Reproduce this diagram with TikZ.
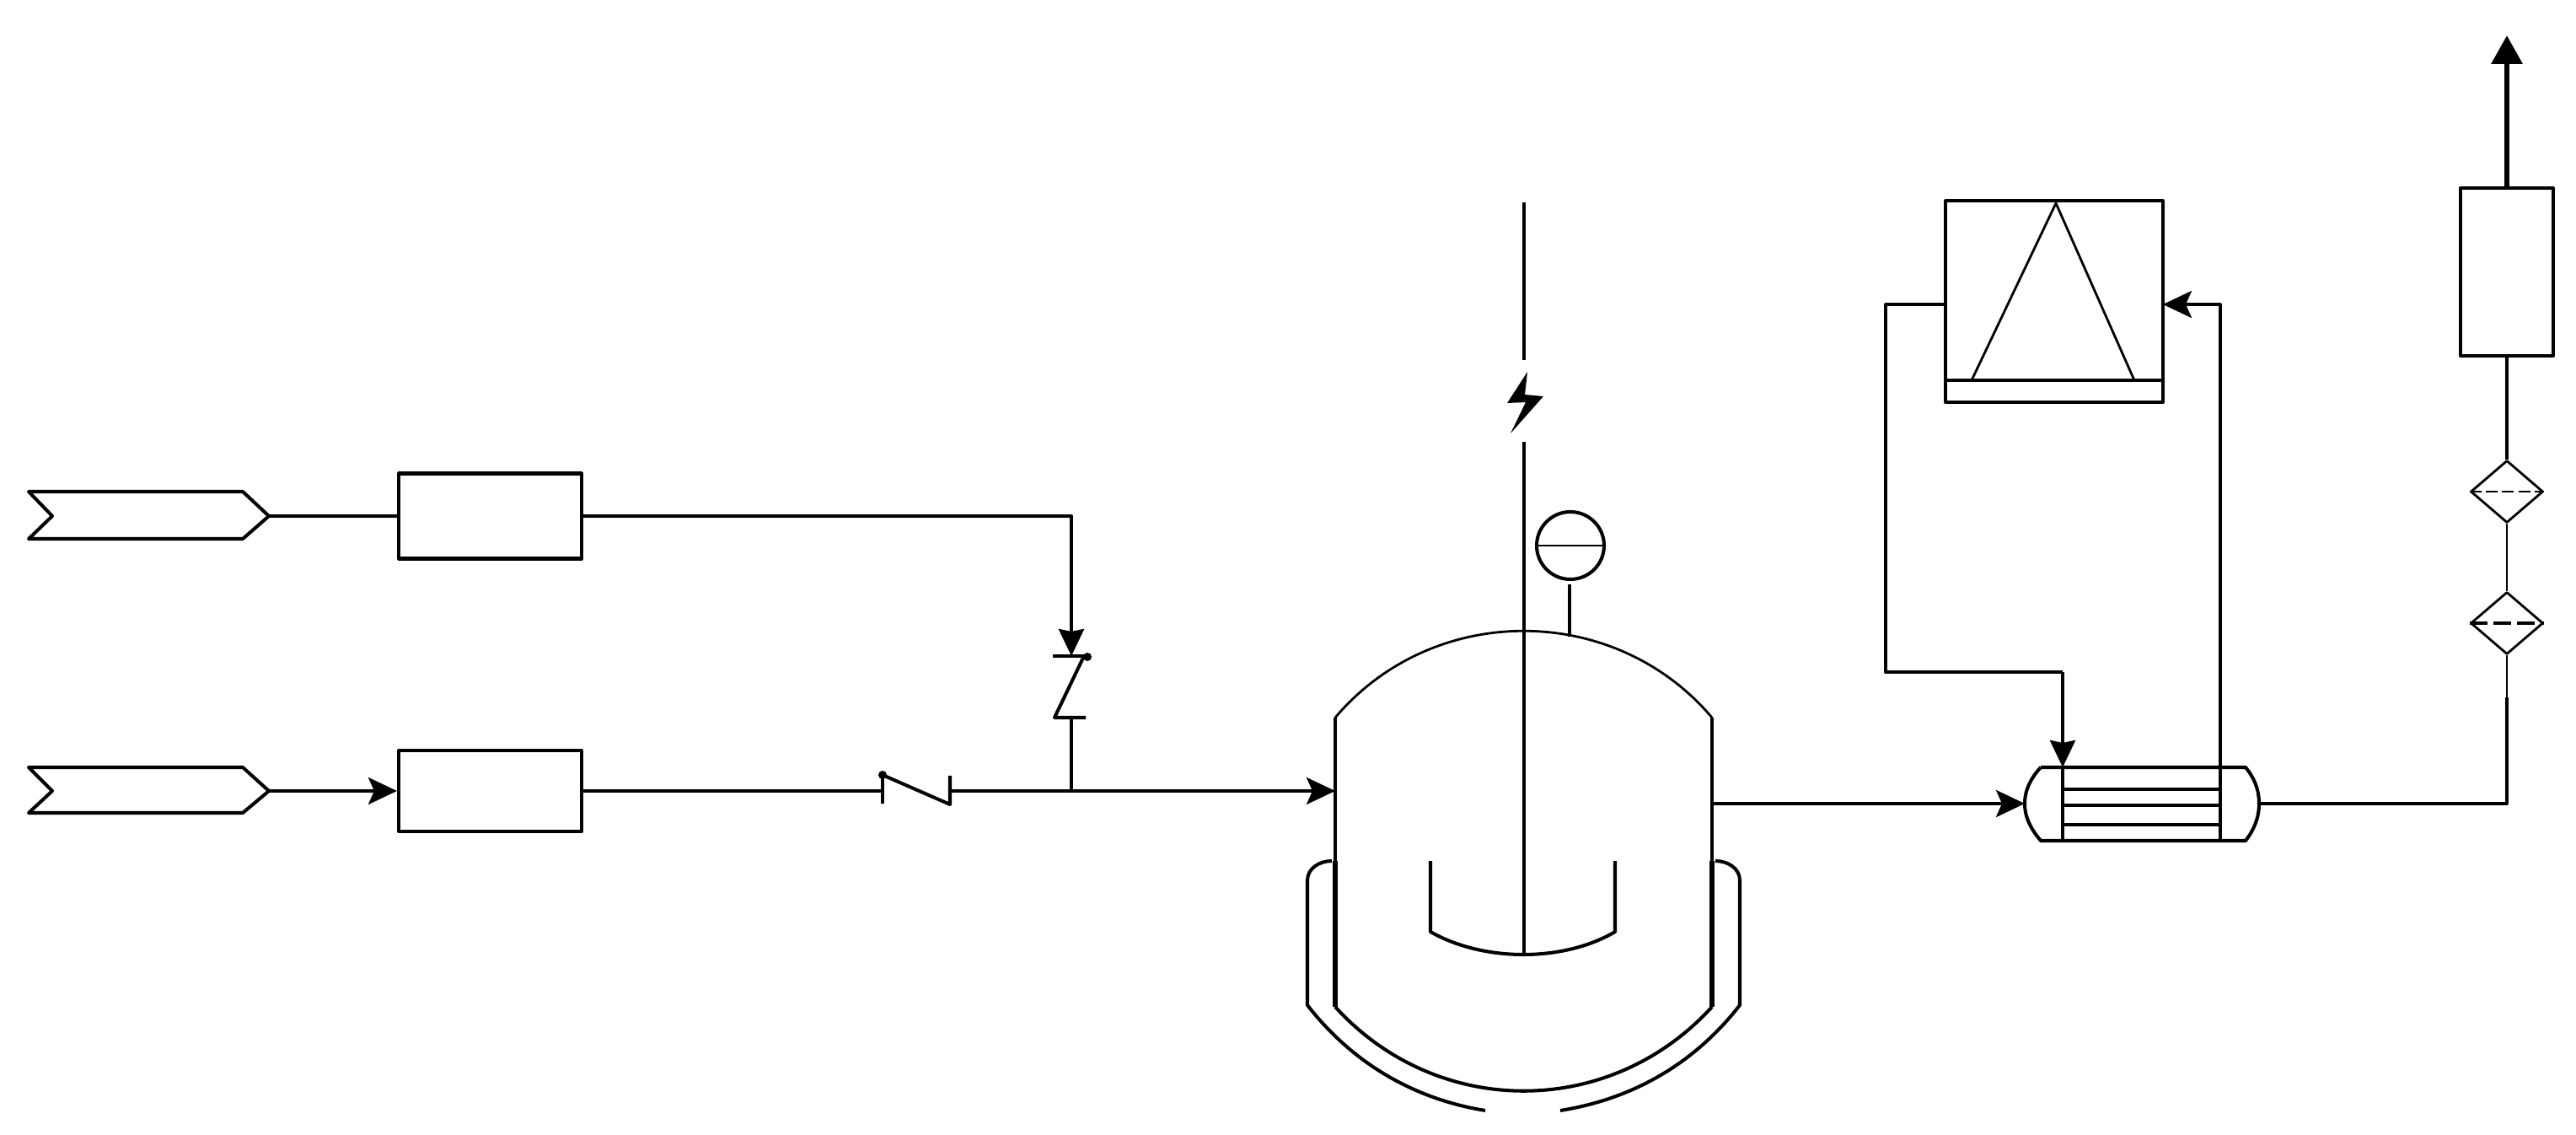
\documentclass[tikz,border=0pt]{standalone}
\usetikzlibrary{arrows.meta,shapes.geometric}
\tikzset{
	,pipe/.style = {line width=1.15pt, line join=round}
	,pipea/.style = {pipe, -{Stealth[length=.34cm,width=.32cm,inset=.07cm]}}
	,pipeb/.style = {pipe, -{Stealth[length=.32cm,width=.30cm,inset=.03cm]}}
	,thinline/.style = {line width=.8pt, line join=round}
	,wall/.style = {line width=1.15pt}
	,wallb/.style = {line width=1.8pt}
	,shaft/.style = {line width=1.3pt}
	,unitbox/.style = {rectangle, draw=black, pipe, inner sep=0pt}
	,filterd/.style = {diamond, draw=black, thinline, inner sep=0pt, aspect=1.16, minimum width=.86cm, minimum height=.74cm}
}
\begin{document}
\begin{tikzpicture}[x=1cm, y=-1cm]
		\useasboundingbox (0,0) rectangle (30.56,13.46);
		\node[unitbox, minimum width=2.17cm, minimum height=1.01cm] at (5.815,6.12) (dosa) {};
		\node[unitbox, minimum width=2.17cm, minimum height=0.96cm] at (5.815,9.38) (dosb) {};
		\node[unitbox, minimum width=2.58cm, minimum height=2.39cm] at (24.37,3.575) (cond) {};
		\node[unitbox, minimum width=1.10cm, minimum height=1.99cm] at (29.74,3.225) (filt) {};
		\node[filterd] at (29.74,5.83) (fila) {};
		\node[filterd] at (29.74,7.39) (filb) {};
		\node[circle, draw=black, pipe, inner sep=0pt, minimum size=.80cm] at (18.63,6.47) (gauge) {};
		\draw[thinline] (gauge.west) -- (gauge.east);
		\draw[dashed, thinline, dash pattern=on 4pt off 1.5pt] (fila.west) -- (fila.east);
		\draw[dashed, pipe, dash pattern=on 6pt off 2pt] (filb.west) -- (filb.east);
		\coordinate (feeda) at (3.19,6.12);
		\coordinate (feedb) at (3.19,9.38);
		\draw[pipe] (0.34,5.83) -- (2.88,5.83) -- (feeda) -- (2.88,6.39) -- (0.34,6.39) -- (0.62,6.12) -- cycle;
		\draw[pipe] (0.34,9.10) -- (2.88,9.10) -- (feedb) -- (2.88,9.64) -- (0.34,9.64) -- (0.62,9.38) -- cycle;
		\coordinate (vtop) at (12.71,7.78);
		\coordinate (vbot) at (12.71,8.51);
		\coordinate (tee) at (12.71,9.38);
		\coordinate (cvl) at (10.47,9.38);
		\coordinate (cvr) at (11.27,9.38);
		\coordinate (vin) at (15.84,9.38);
		\coordinate (vout) at (20.31,9.53);
		\coordinate (hin) at (24.02,9.53);
		\coordinate (hout) at (26.80,9.53);
		\coordinate (hxa) at (24.47,9.10);
		\coordinate (hxb) at (26.34,9.10);
		\coordinate (conda) at (23.08,3.61);
		\coordinate (condb) at (25.66,3.61);
		\coordinate (gtop) at (18.62,6.93);
		\coordinate (gbot) at (18.62,7.55);
		\coordinate (vline) at (29.74,8.27);
		\draw[pipe] (feeda) -- (dosa.west);
		\draw[pipeb] (dosa.east) -| (vtop);
		\draw[pipea] (feedb) -- (dosb.west);
		\draw[pipe] (dosb.east) -- (cvl);
		\draw[pipea] (cvr) -- (vin);
		\draw[pipe] (tee) -- (vbot);
		\draw[pipe] (12.49,7.78) -- (12.90,7.78);
		\fill (12.90,7.79) circle (.05);
		\draw[pipe] (12.86,7.78) -- (12.51,8.51) -- (12.88,8.51);
		\draw[pipe] (10.47,9.17) -- (10.47,9.53);
		\fill (10.47,9.19) circle (.05);
		\draw[pipe] (10.47,9.19) -- (11.27,9.54) -- (11.27,9.20);
		\draw[wall] (15.84,8.51) -- (15.84,10.21);
		\draw[wall] (20.31,8.51) -- (20.31,10.21);
		\draw[wallb] (15.84,10.21) -- (15.84,11.94);
		\draw[wallb] (20.31,10.21) -- (20.31,11.94);
		\draw[thinline] (15.84,8.51) .. controls (17.0,7.14) and (19.15,7.14) .. (20.31,8.51);
		\draw[pipe] (15.84,11.94) .. controls (17.05,13.27) and (19.10,13.27) .. (20.31,11.94);
		\draw[pipe] (15.80,10.21) .. controls (15.65,10.21) and (15.51,10.30) .. (15.51,10.44) -- (15.51,11.92) .. controls (16.0,12.55) and (16.7,13.02) .. (17.62,13.17);
		\draw[pipe] (20.35,10.21) .. controls (20.50,10.21) and (20.64,10.30) .. (20.64,10.44) -- (20.64,11.92) .. controls (20.15,12.55) and (19.45,13.02) .. (18.51,13.17);
		\draw[shaft] (18.08,2.40) -- (18.08,4.27);
		\draw[shaft] (18.08,5.24) -- (18.08,11.32);
		\fill (18.12,4.41) -- (17.88,4.78) -- (18.10,4.77) -- (17.92,5.14) -- (18.31,4.70) -- (18.09,4.68) -- cycle;
		\draw[pipe] (16.97,10.21) -- (16.97,11.05) .. controls (17.6,11.41) and (18.55,11.41) .. (19.16,11.05) -- (19.16,10.21);
		\draw[pipe] (gtop) -- (gbot);
		\draw[pipe] (23.08,4.51) -- (25.66,4.51);
		\draw[thinline] (23.39,4.51) -- (24.39,2.41) -- (25.32,4.51);
		\draw[pipe] (conda) -- (22.37,3.61) -- (22.37,7.97) -- (24.47,7.97);
		\draw[pipeb] (24.47,7.97) -- (hxa);
		\draw[pipe] (hxa) -- (24.47,9.97);
		\draw[pipe] (26.34,9.97) -- (hxb);
		\draw[pipea] (hxb) |- (condb);
		\draw[pipe] (24.21,9.10) -- (26.64,9.10) .. controls (26.74,9.22) and (26.80,9.36) .. (hout) .. controls (26.80,9.70) and (26.74,9.84) .. (26.64,9.97) -- (24.21,9.97) .. controls (24.10,9.84) and (24.02,9.70) .. (hin) .. controls (24.02,9.36) and (24.10,9.22) .. (24.21,9.10);
		\foreach \ty in {9.36,9.55,9.78}
			\draw[pipe] (24.47,\ty) -- (26.34,\ty);
		\draw[pipea] (vout) -- (hin);
		\draw[pipe] (hout) -| (vline);
		\draw[thinline] (vline) -- (filb.south);
		\draw[thinline] (filb.north) -- (fila.south);
		\draw[pipe] (fila.north) -- (filt.south);
		\draw[line width=1.9pt, -{Triangle[length=.34cm,width=.36cm]}] (filt.north) -- (29.74,0.42);
	\end{tikzpicture}
\end{document}
